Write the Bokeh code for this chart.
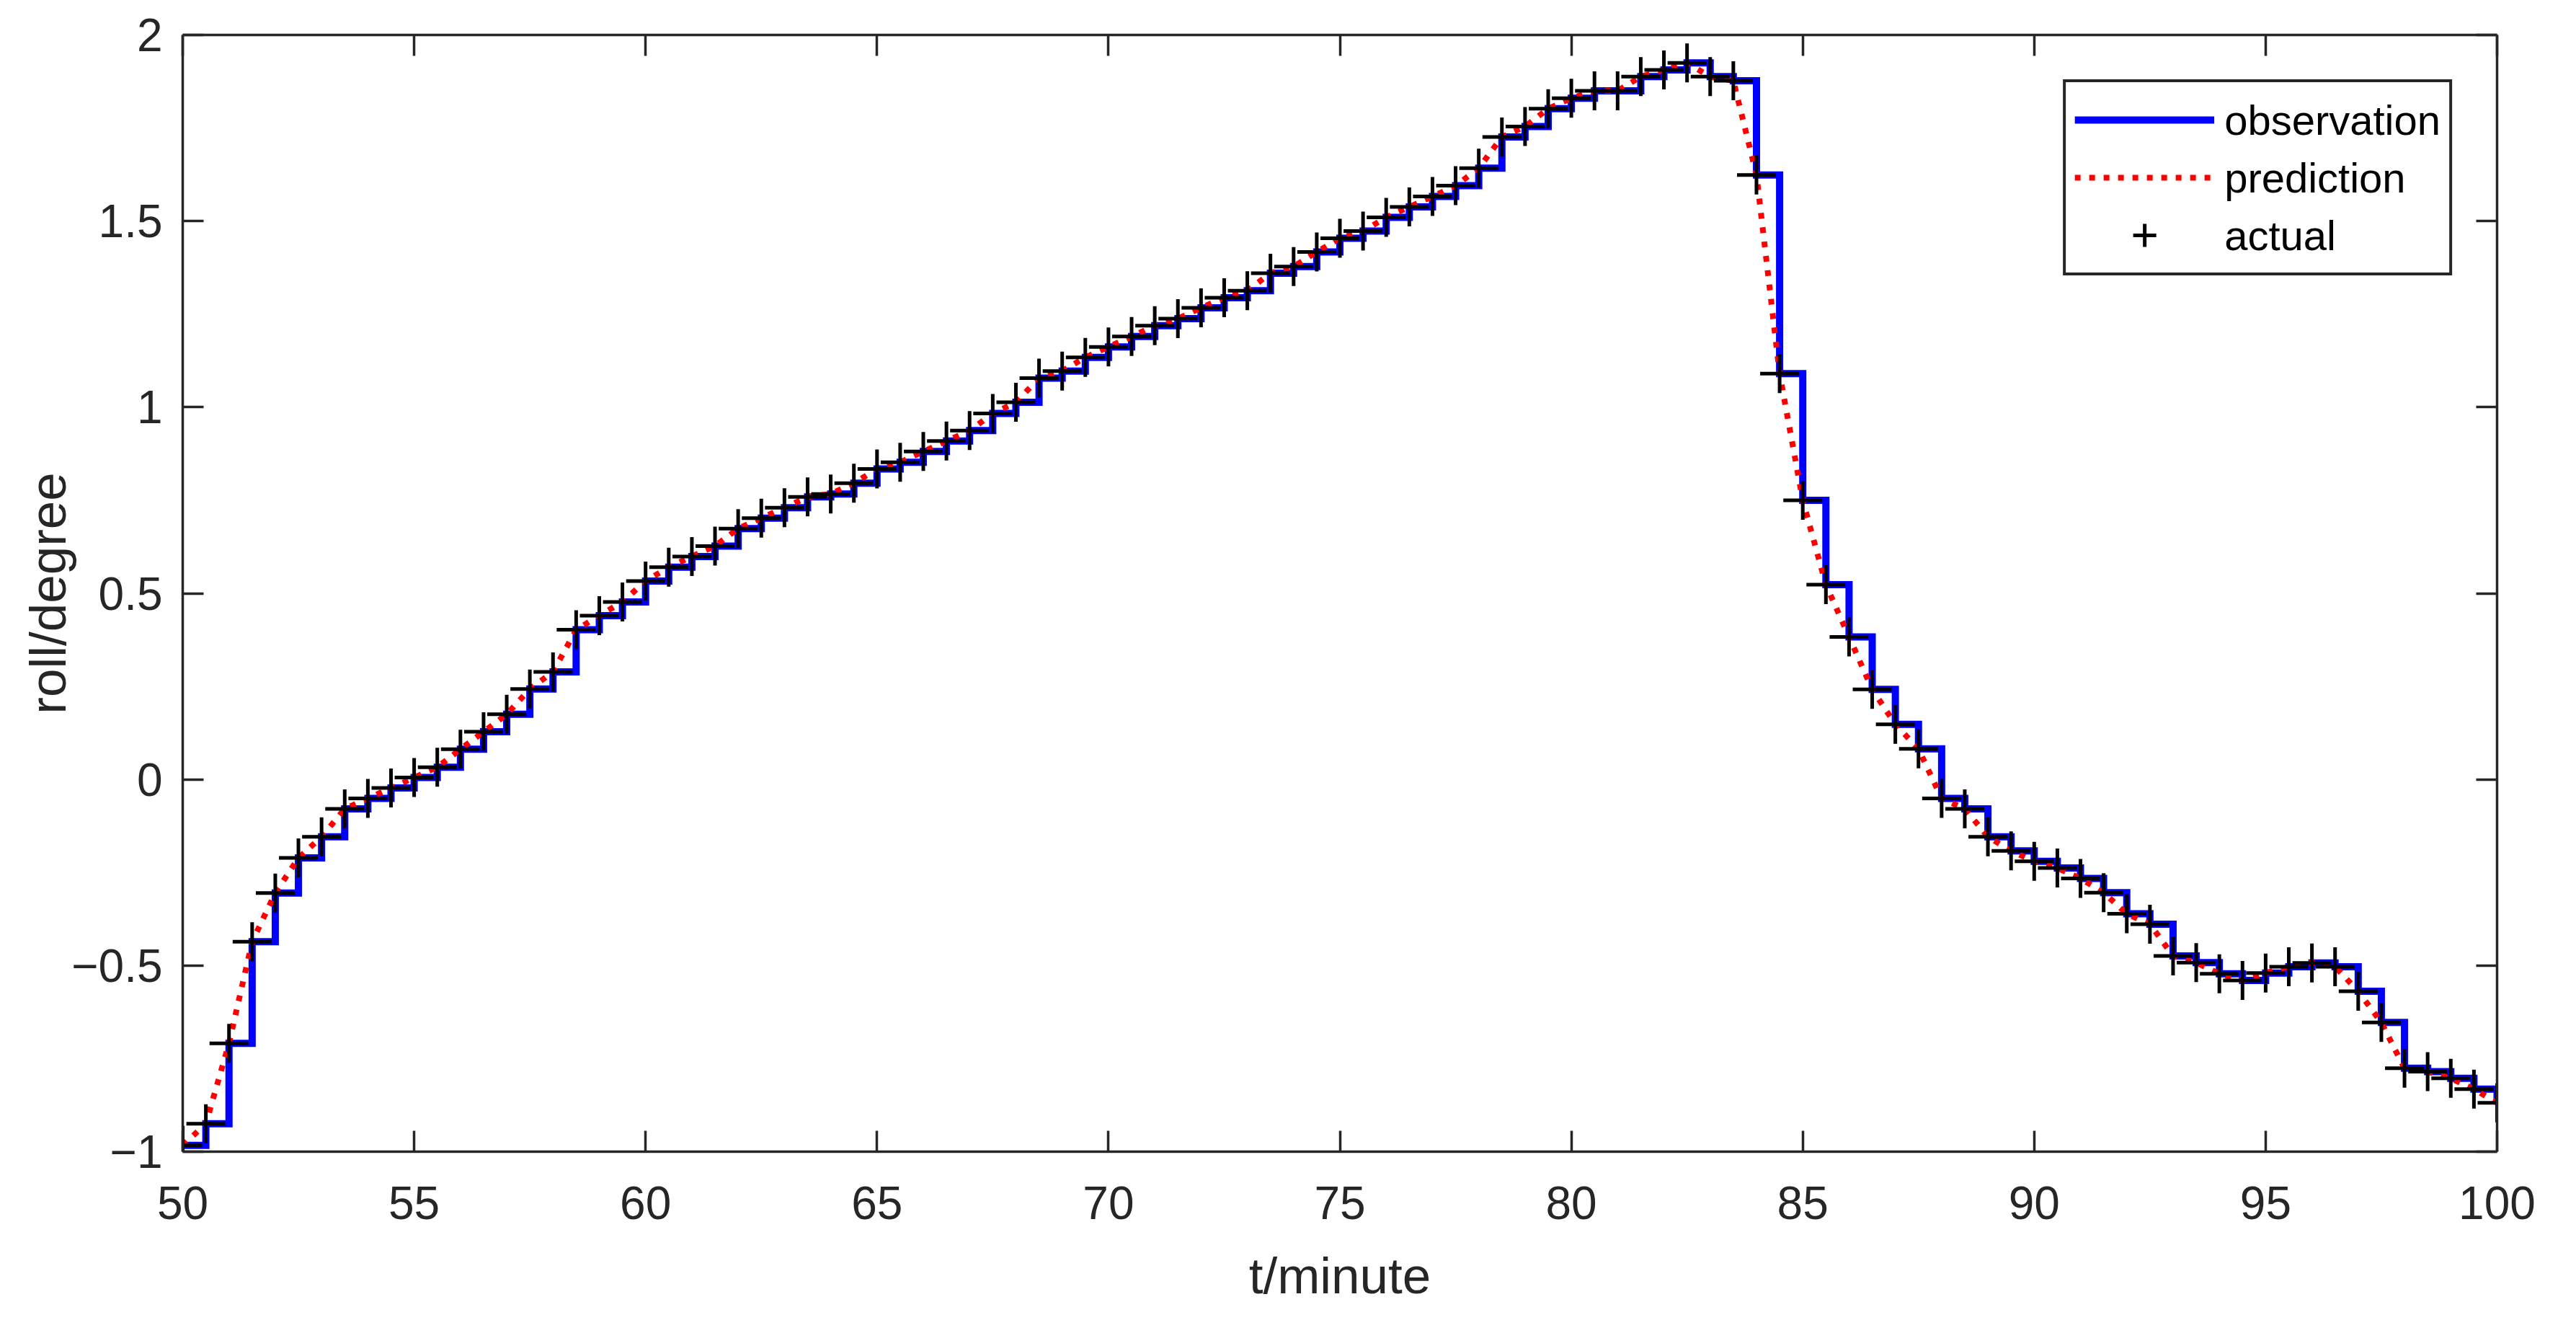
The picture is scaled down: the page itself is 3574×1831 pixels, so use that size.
from bokeh.plotting import figure
from bokeh.models import Range1d, LinearAxis, FixedTicker, Legend, LegendItem
from bokeh.embed import file_html
from bokeh.resources import INLINE

# ---------------- data ----------------
t_minute = [50.0, 50.5, 51.0, 51.5, 52.0, 52.5, 53.0, 53.5, 54.0, 54.5,
            55.0, 55.5, 56.0, 56.5, 57.0, 57.5, 58.0, 58.5, 59.0, 59.5,
            60.0, 60.5, 61.0, 61.5, 62.0, 62.5, 63.0, 63.5, 64.0, 64.5,
            65.0, 65.5, 66.0, 66.5, 67.0, 67.5, 68.0, 68.5, 69.0, 69.5,
            70.0, 70.5, 71.0, 71.5, 72.0, 72.5, 73.0, 73.5, 74.0, 74.5,
            75.0, 75.5, 76.0, 76.5, 77.0, 77.5, 78.0, 78.5, 79.0, 79.5,
            80.0, 80.5, 81.0, 81.5, 82.0, 82.5, 83.0, 83.5, 84.0, 84.5,
            85.0, 85.5, 86.0, 86.5, 87.0, 87.5, 88.0, 88.5, 89.0, 89.5,
            90.0, 90.5, 91.0, 91.5, 92.0, 92.5, 93.0, 93.5, 94.0, 94.5,
            95.0, 95.5, 96.0, 96.5, 97.0, 97.5, 98.0, 98.5, 99.0, 99.5,
            100.0]

actual = [-0.983, -0.925, -0.709, -0.436, -0.305, -0.211, -0.154, -0.079, -0.051, -0.023,
          0.005, 0.033, 0.081, 0.128, 0.175, 0.243, 0.289, 0.402, 0.440, 0.477,
          0.533, 0.570, 0.599, 0.627, 0.674, 0.702, 0.730, 0.759, 0.767, 0.796,
          0.834, 0.852, 0.881, 0.909, 0.937, 0.983, 1.013, 1.078, 1.097, 1.134,
          1.162, 1.190, 1.219, 1.238, 1.267, 1.294, 1.313, 1.360, 1.378, 1.417,
          1.454, 1.473, 1.510, 1.538, 1.566, 1.595, 1.642, 1.726, 1.754, 1.802,
          1.830, 1.850, 1.850, 1.888, 1.906, 1.925, 1.888, 1.877, 1.624, 1.090,
          0.750, 0.523, 0.383, 0.242, 0.148, 0.082, -0.051, -0.079, -0.154, -0.192,
          -0.220, -0.238, -0.266, -0.304, -0.361, -0.389, -0.474, -0.492, -0.522, -0.540,
          -0.520, -0.503, -0.493, -0.503, -0.569, -0.653, -0.776, -0.785, -0.803, -0.832,
          -0.869]

observation = [-0.983, -0.925, -0.709, -0.436, -0.305, -0.211, -0.154, -0.079, -0.051, -0.023,
               0.005, 0.033, 0.081, 0.128, 0.175, 0.243, 0.289, 0.402, 0.440, 0.477,
               0.533, 0.570, 0.599, 0.627, 0.674, 0.702, 0.730, 0.759, 0.767, 0.796,
               0.834, 0.852, 0.881, 0.909, 0.937, 0.983, 1.013, 1.078, 1.097, 1.134,
               1.162, 1.190, 1.219, 1.238, 1.267, 1.294, 1.313, 1.360, 1.378, 1.417,
               1.454, 1.473, 1.510, 1.538, 1.566, 1.595, 1.642, 1.726, 1.754, 1.802,
               1.830, 1.850, 1.850, 1.888, 1.906, 1.925, 1.888, 1.877, 1.624, 1.090,
               0.750, 0.523, 0.383, 0.242, 0.148, 0.082, -0.051, -0.079, -0.154, -0.192,
               -0.220, -0.238, -0.266, -0.304, -0.361, -0.389, -0.474, -0.492, -0.522, -0.540,
               -0.520, -0.503, -0.493, -0.503, -0.569, -0.653, -0.776, -0.785, -0.803, -0.832,
               -0.869]

prediction = [-0.983, -0.925, -0.709, -0.436, -0.305, -0.211, -0.154, -0.079, -0.051, -0.023,
              0.005, 0.033, 0.081, 0.128, 0.175, 0.243, 0.289, 0.402, 0.440, 0.477,
              0.533, 0.570, 0.599, 0.627, 0.674, 0.702, 0.730, 0.759, 0.767, 0.796,
              0.834, 0.852, 0.881, 0.909, 0.937, 0.983, 1.013, 1.078, 1.097, 1.134,
              1.162, 1.190, 1.219, 1.238, 1.267, 1.294, 1.313, 1.360, 1.378, 1.417,
              1.454, 1.473, 1.510, 1.538, 1.566, 1.595, 1.642, 1.726, 1.754, 1.802,
              1.830, 1.850, 1.850, 1.888, 1.906, 1.925, 1.888, 1.877, 1.624, 1.090,
              0.750, 0.523, 0.383, 0.242, 0.148, 0.082, -0.051, -0.079, -0.154, -0.192,
              -0.220, -0.238, -0.266, -0.304, -0.361, -0.389, -0.474, -0.492, -0.522, -0.540,
              -0.520, -0.503, -0.493, -0.503, -0.569, -0.653, -0.776, -0.785, -0.803, -0.832,
              -0.869]

x_ticks = [50, 55, 60, 65, 70, 75, 80, 85, 90, 95, 100]
y_ticks = [-1, -0.5, 0, 0.5, 1, 1.5, 2]
y_tick_labels = ["\u22121", "\u22120.5", "0", "0.5", "1", "1.5", "2"]

# ---------------- figure ----------------
AX = "#262626"
FONT = "Liberation Sans"

p = figure(width=3558, height=1815, output_backend="svg", toolbar_location=None,
           x_range=Range1d(50, 100), y_range=Range1d(-1, 2),
           min_border_left=253, min_border_right=94, min_border_top=48, min_border_bottom=218,
           background_fill_color="white", border_fill_color="white")
p.outline_line_color = None
p.xgrid.visible = False
p.ygrid.visible = False

r_obs = p.step(t_minute, observation, mode="after", line_color="#0000FF", line_width=10,
               line_join="miter")
r_pred = p.line(t_minute, prediction, line_color="#FF0000", line_width=8, line_dash="8 12")
r_act = p.scatter(t_minute, actual, marker="cross", size=54, line_color="black", line_width=5)

def style_axis(ax, show_labels):
    ax.axis_line_color = AX
    ax.axis_line_width = 3.5
    ax.major_tick_line_color = AX
    ax.major_tick_line_width = 3.5
    ax.major_tick_in = 29
    ax.major_tick_out = 0
    ax.minor_tick_line_color = None
    ax.major_label_text_font = FONT
    ax.axis_label_text_font = FONT
    ax.axis_label_text_font_style = "normal"
    ax.axis_label_text_color = AX
    if show_labels:
        ax.major_label_text_color = AX
        ax.major_label_text_font_size = "64px"
        ax.axis_label_text_font_size = "71px"
    else:
        ax.major_label_text_color = None
        ax.major_label_text_font_size = "1px"
        ax.major_label_standoff = 0

xa = p.xaxis[0]
xa.ticker = FixedTicker(ticks=x_ticks)
xa.axis_label = "t/minute"
style_axis(xa, True)
xa.major_label_standoff = 48
xa.axis_label_standoff = 36

ya = p.yaxis[0]
ya.ticker = FixedTicker(ticks=y_ticks)
ya.major_label_overrides = {float(v): s for v, s in zip(y_ticks, y_tick_labels)}
ya.axis_label = "roll/degree"
style_axis(ya, True)
ya.major_label_standoff = 28
ya.axis_label_standoff = -10

top = LinearAxis(ticker=FixedTicker(ticks=x_ticks))
style_axis(top, False)
p.add_layout(top, "above")
right = LinearAxis(ticker=FixedTicker(ticks=y_ticks))
style_axis(right, False)
p.add_layout(right, "right")

legend = Legend(items=[LegendItem(label="observation", renderers=[r_obs]),
                       LegendItem(label="prediction", renderers=[r_pred]),
                       LegendItem(label="actual", renderers=[r_act])],
                location="top_right", margin=62)
legend.label_text_font = FONT
legend.label_text_font_size = "58px"
legend.label_text_color = "black"
legend.glyph_width = 194
legend.glyph_height = 80
legend.label_height = 58
legend.label_standoff = 14
legend.spacing = 0
legend.padding = 12
legend.border_line_color = AX
legend.border_line_alpha = 1.0
legend.border_line_width = 4
legend.background_fill_color = "white"
legend.background_fill_alpha = 1.0
p.add_layout(legend, "center")

open("out.html", "w").write(file_html(p, INLINE))
